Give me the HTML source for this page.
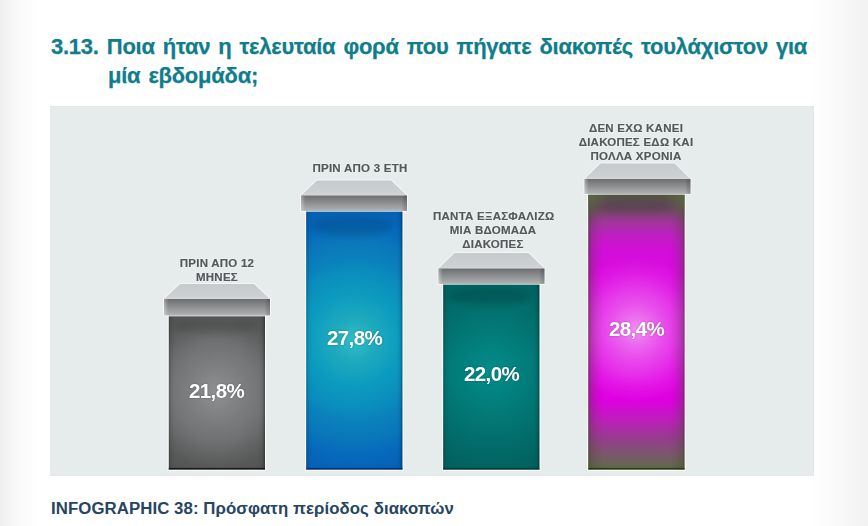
<!DOCTYPE html>
<html><head><meta charset="utf-8">
<style>
html,body{margin:0;padding:0;}
body{width:868px;height:526px;overflow:hidden;position:relative;
 background:linear-gradient(90deg,#efefef 0px,#fafafa 20px,#ffffff 40px,#ffffff 812px,#fbfbfb 830px,#f2f2f2 868px);
 font-family:"Liberation Sans",sans-serif;}
.t{position:absolute;white-space:nowrap;}
.lab,.pct{will-change:transform;}
#title{left:51px;top:31.5px;font-size:22px;letter-spacing:-0.25px;word-spacing:2.2px;font-weight:bold;color:#0f7d8b;line-height:29px;-webkit-text-stroke:0.25px #0f7d8b;}
#title .l2{padding-left:57px;}
#cap{left:51px;top:498.8px;font-size:16.8px;letter-spacing:0.08px;font-weight:bold;color:#264562;}
#chart{position:absolute;left:50px;top:106px;width:764px;height:370px;background:#e6ebeb;box-shadow:inset 0 1px 0 #e1e6e7,inset -1px 0 0 #e1e6e7,inset 0 -1px 0 #e3e8e9;}
.lab{position:absolute;font-size:11.5px;letter-spacing:0.25px;font-weight:bold;color:#54585a;-webkit-text-stroke:0.2px #54585a;text-align:center;line-height:13.8px;white-space:nowrap;
 text-shadow:0 0 2px #fff,0 0 1px #fff;}
.pct{position:absolute;font-size:20.5px;font-weight:bold;color:#fff;white-space:nowrap;letter-spacing:-0.6px;
 text-shadow:0 0 2px rgba(0,0,0,0.35);}
svg{position:absolute;left:0;top:0;}
</style></head><body>
<div class="t" id="title">3.13. Ποια ήταν η τελευταία φορά που πήγατε διακοπές τουλάχιστον για<br><span class="l2">μία εβδομάδα;</span></div>
<div id="chart"></div>
<svg width="868" height="526" viewBox="0 0 868 526">
<defs>
 <filter id="blur" x="-50%" y="-100%" width="200%" height="300%"><feGaussianBlur stdDeviation="3.2"/></filter>
 <linearGradient id="trap" x1="0" y1="0" x2="0" y2="1">
  <stop offset="0" stop-color="#c6cacc"/><stop offset="0.85" stop-color="#cdd1d3"/><stop offset="1" stop-color="#d6d9db"/>
 </linearGradient>
 <linearGradient id="front" x1="0" y1="0" x2="0" y2="1">
  <stop offset="0" stop-color="#6c6e6f"/><stop offset="0.5" stop-color="#8e9091"/><stop offset="0.9" stop-color="#a9abac"/><stop offset="1" stop-color="#b8babb"/>
 </linearGradient>
 <linearGradient id="frontEdge" x1="0" y1="0" x2="1" y2="0">
  <stop offset="0" stop-color="#fff" stop-opacity="0.35"/><stop offset="0.04" stop-color="#fff" stop-opacity="0"/>
  <stop offset="0.95" stop-color="#000" stop-opacity="0"/><stop offset="0.975" stop-color="#000" stop-opacity="0.12"/><stop offset="1" stop-color="#000" stop-opacity="0.16"/>
 </linearGradient>
 <linearGradient id="edge" x1="0" y1="0" x2="1" y2="0">
  <stop offset="0" stop-color="#000" stop-opacity="0.22"/><stop offset="0.025" stop-color="#000" stop-opacity="0.06"/><stop offset="0.06" stop-color="#000" stop-opacity="0"/>
  <stop offset="0.94" stop-color="#000" stop-opacity="0"/><stop offset="0.975" stop-color="#000" stop-opacity="0.08"/><stop offset="1" stop-color="#000" stop-opacity="0.35"/>
 </linearGradient>
 <radialGradient id="g1" gradientUnits="userSpaceOnUse" cx="216.5" cy="392" r="115">
  <stop offset="0" stop-color="#8e9091"/><stop offset="0.235" stop-color="#7c7e7f"/><stop offset="0.39" stop-color="#727475"/>
  <stop offset="0.46" stop-color="#6c6e6f"/><stop offset="0.54" stop-color="#636565"/><stop offset="0.66" stop-color="#575959"/>
  <stop offset="0.72" stop-color="#545656"/><stop offset="1" stop-color="#454747"/>
 </radialGradient>
 <radialGradient id="g2" gradientUnits="userSpaceOnUse" cx="354.5" cy="340" r="150">
  <stop offset="0" stop-color="rgb(50,190,198)"/><stop offset="0.133" stop-color="rgb(31,171,190)"/><stop offset="0.3" stop-color="rgb(12,156,191)"/>
  <stop offset="0.487" stop-color="rgb(10,138,188)"/><stop offset="0.533" stop-color="rgb(10,130,188)"/><stop offset="0.667" stop-color="rgb(10,118,186)"/>
  <stop offset="0.767" stop-color="rgb(6,106,188)"/><stop offset="0.867" stop-color="rgb(6,98,182)"/><stop offset="1" stop-color="rgb(6,90,178)"/>
 </radialGradient>
 <radialGradient id="g3" gradientUnits="userSpaceOnUse" cx="491.5" cy="372" r="110">
  <stop offset="0" stop-color="rgb(4,140,138)"/><stop offset="0.2" stop-color="rgb(2,131,129)"/><stop offset="0.47" stop-color="rgb(2,117,115)"/>
  <stop offset="0.8" stop-color="rgb(2,102,100)"/><stop offset="1" stop-color="rgb(2,94,92)"/>
 </radialGradient>
 <linearGradient id="g4" gradientUnits="userSpaceOnUse" x1="0" y1="194" x2="0" y2="469.5">
  <stop offset="0" stop-color="rgb(78,86,64)"/><stop offset="0.018" stop-color="rgb(90,82,78)"/><stop offset="0.058" stop-color="rgb(112,72,100)"/>
  <stop offset="0.102" stop-color="rgb(160,54,154)"/><stop offset="0.149" stop-color="rgb(192,30,194)"/><stop offset="0.203" stop-color="rgb(210,14,216)"/>
  <stop offset="0.312" stop-color="rgb(222,8,228)"/><stop offset="0.675" stop-color="rgb(226,4,230)"/><stop offset="0.748" stop-color="rgb(222,0,224)"/>
  <stop offset="0.82" stop-color="rgb(190,30,188)"/><stop offset="0.893" stop-color="rgb(148,62,138)"/><stop offset="0.958" stop-color="rgb(116,92,100)"/>
  <stop offset="1" stop-color="rgb(92,106,70)"/>
 </linearGradient>
 <linearGradient id="edge4" x1="0" y1="0" x2="1" y2="0">
  <stop offset="0" stop-color="rgb(60,70,40)" stop-opacity="0.6"/><stop offset="0.03" stop-color="rgb(60,70,40)" stop-opacity="0.28"/><stop offset="0.09" stop-color="rgb(60,70,40)" stop-opacity="0.1"/><stop offset="0.16" stop-color="rgb(60,70,40)" stop-opacity="0"/>
  <stop offset="0.84" stop-color="rgb(60,70,40)" stop-opacity="0"/><stop offset="0.91" stop-color="rgb(60,70,40)" stop-opacity="0.1"/><stop offset="0.97" stop-color="rgb(60,70,40)" stop-opacity="0.28"/><stop offset="1" stop-color="rgb(60,70,40)" stop-opacity="0.6"/>
 </linearGradient>
 <radialGradient id="corner"><stop offset="0" stop-color="rgb(96,112,70)" stop-opacity="0.75"/><stop offset="0.5" stop-color="rgb(96,112,70)" stop-opacity="0.35"/><stop offset="1" stop-color="rgb(96,112,70)" stop-opacity="0"/></radialGradient>
 <radialGradient id="g4glow" gradientUnits="userSpaceOnUse" cx="636" cy="330" r="72">
  <stop offset="0" stop-color="#fff" stop-opacity="0.55"/><stop offset="0.22" stop-color="#fff" stop-opacity="0.39"/><stop offset="0.42" stop-color="#fff" stop-opacity="0.27"/>
  <stop offset="0.58" stop-color="#fff" stop-opacity="0.19"/><stop offset="0.8" stop-color="#fff" stop-opacity="0.07"/><stop offset="1" stop-color="#fff" stop-opacity="0"/>
 </radialGradient>
</defs>
<g>
<rect x="167.6" y="315.5" width="98.6" height="155.5" fill="#fbfcfc"/>
<rect x="168.8" y="315.5" width="96.2" height="154.0" fill="url(#g1)"/>
<rect x="168.8" y="315.5" width="96.2" height="154.0" fill="url(#edge)"/>
<ellipse cx="215.0" cy="326.5" rx="41" ry="7" fill="#000" opacity="0.11" filter="url(#blur)" clip-path="url(#c0)"/>
<clipPath id="c0"><rect x="168.8" y="315.5" width="96.2" height="154.0"/></clipPath>
<rect x="168.8" y="467.9" width="96.2" height="1.6" fill="#1a1a1a"/>
<polygon points="180.0,284 254.0,284 270.0,299 270.0,315.5 164.0,315.5 164.0,299" fill="none" stroke="#fff" stroke-width="2" stroke-opacity="0.6" stroke-linejoin="round"/>
<polygon points="180.0,284 254.0,284 270.0,299 164.0,299" fill="url(#trap)"/>
<rect x="164.0" y="299" width="106" height="16.5" fill="url(#front)"/>
<rect x="164.0" y="299" width="106" height="16.5" fill="url(#frontEdge)"/>
</g>
<g>
<rect x="305.0" y="211" width="98.6" height="260.0" fill="#fbfcfc"/>
<rect x="306.2" y="211" width="96.2" height="258.5" fill="url(#g2)"/>
<rect x="306.2" y="211" width="96.2" height="258.5" fill="url(#edge)"/>
<ellipse cx="352.0" cy="226" rx="41" ry="10" fill="#000" opacity="0.12" filter="url(#blur)" clip-path="url(#c1)"/>
<clipPath id="c1"><rect x="306.2" y="211" width="96.2" height="258.5"/></clipPath>
<rect x="306.2" y="467.9" width="96.2" height="1.6" fill="#0a2f70"/>
<polygon points="317.0,180.5 391.0,180.5 407.0,195.5 407.0,211 301.0,211 301.0,195.5" fill="none" stroke="#fff" stroke-width="2" stroke-opacity="0.6" stroke-linejoin="round"/>
<polygon points="317.0,180.5 391.0,180.5 407.0,195.5 301.0,195.5" fill="url(#trap)"/>
<rect x="301.0" y="195.5" width="106" height="15.5" fill="url(#front)"/>
<rect x="301.0" y="195.5" width="106" height="15.5" fill="url(#frontEdge)"/>
</g>
<g>
<rect x="442.0" y="284" width="98.6" height="187.0" fill="#fbfcfc"/>
<rect x="443.2" y="284" width="96.2" height="185.5" fill="url(#g3)"/>
<rect x="443.2" y="284" width="96.2" height="185.5" fill="url(#edge)"/>
<ellipse cx="489.5" cy="296" rx="41" ry="9" fill="#000" opacity="0.14" filter="url(#blur)" clip-path="url(#c2)"/>
<clipPath id="c2"><rect x="443.2" y="284" width="96.2" height="185.5"/></clipPath>
<rect x="443.2" y="467.9" width="96.2" height="1.6" fill="#043c3a"/>
<polygon points="454.5,253 528.5,253 544.5,268.5 544.5,284 438.5,284 438.5,268.5" fill="none" stroke="#fff" stroke-width="2" stroke-opacity="0.6" stroke-linejoin="round"/>
<polygon points="454.5,253 528.5,253 544.5,268.5 438.5,268.5" fill="url(#trap)"/>
<rect x="438.5" y="268.5" width="106" height="15.5" fill="url(#front)"/>
<rect x="438.5" y="268.5" width="106" height="15.5" fill="url(#frontEdge)"/>
</g>
<g>
<rect x="587.1" y="194" width="98.6" height="277.0" fill="#fbfcfc"/>
<rect x="588.3" y="194" width="96.2" height="275.5" fill="url(#g4)"/>
<rect x="588.3" y="194" width="96.2" height="275.5" fill="url(#g4glow)"/>
<rect x="588.3" y="194" width="96.2" height="275.5" fill="url(#edge4)"/>
<ellipse cx="635.5" cy="206" rx="41" ry="7" fill="#000" opacity="0.09" filter="url(#blur)" clip-path="url(#c3)"/>
<clipPath id="c3"><rect x="588.3" y="194" width="96.2" height="275.5"/></clipPath>
<g clip-path="url(#c3)"><ellipse cx="588.3" cy="194" rx="20" ry="26" fill="url(#corner)"/><ellipse cx="684.5" cy="194" rx="20" ry="26" fill="url(#corner)"/></g>
<rect x="588.3" y="467.9" width="96.2" height="1.6" fill="#2a3a18"/>
<polygon points="600.5,163.5 674.5,163.5 690.5,179 690.5,194 584.5,194 584.5,179" fill="none" stroke="#fff" stroke-width="2" stroke-opacity="0.6" stroke-linejoin="round"/>
<polygon points="600.5,163.5 674.5,163.5 690.5,179 584.5,179" fill="url(#trap)"/>
<rect x="584.5" y="179" width="106" height="15.0" fill="url(#front)"/>
<rect x="584.5" y="179" width="106" height="15.0" fill="url(#frontEdge)"/>
</g>
</svg>
<div class="lab" style="left:167px;top:256.5px;width:100px;">ΠΡΙΝ ΑΠΟ 12<br>ΜΗΝΕΣ</div>
<div class="lab" style="left:310px;top:162px;width:100px;">ΠΡΙΝ ΑΠΟ 3 ΕΤΗ</div>
<div class="lab" style="left:433px;top:209.5px;width:120px;">ΠΑΝΤΑ ΕΞΑΣΦΑΛΙΖΩ<br>ΜΙΑ ΒΔΟΜΑΔΑ<br>ΔΙΑΚΟΠΕΣ</div>
<div class="lab" style="left:576px;top:121.5px;width:120px;">ΔΕΝ ΕΧΩ ΚΑΝΕΙ<br>ΔΙΑΚΟΠΕΣ ΕΔΩ ΚΑΙ<br>ΠΟΛΛΑ ΧΡΟΝΙΑ</div>
<div class="pct" style="left:189px;top:379px;">21,8%</div>
<div class="pct" style="left:327px;top:326px;">27,8%</div>
<div class="pct" style="left:464px;top:362px;">22,0%</div>
<div class="pct" style="left:609px;top:317px;">28,4%</div>
<div class="t" id="cap">INFOGRAPHIC 38: Πρόσφατη περίοδος διακοπών</div>
</body></html>
